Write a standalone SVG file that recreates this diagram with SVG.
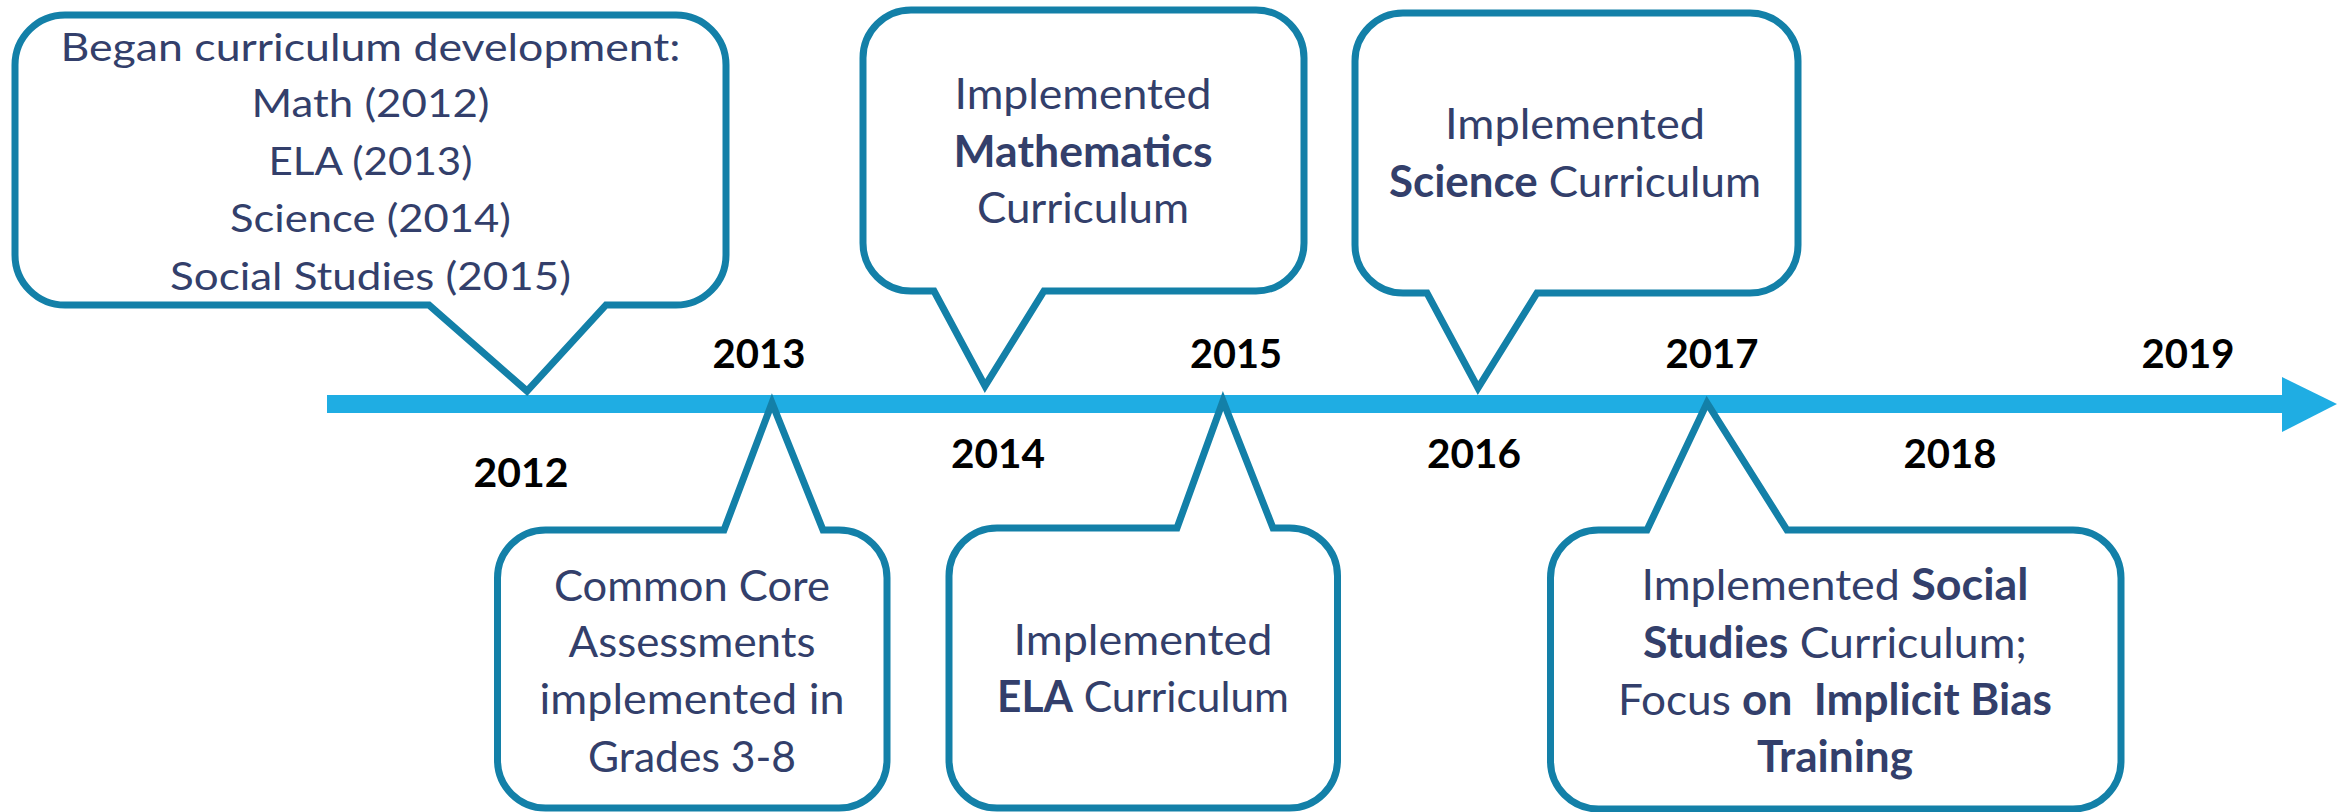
<svg xmlns="http://www.w3.org/2000/svg" width="2346" height="812" viewBox="0 0 2346 812">
<style>
.box{fill:#fff;stroke:#1380a8;stroke-width:7;stroke-linejoin:miter;stroke-miterlimit:10}
.t{font-family:Lato,"Open Sans","Liberation Sans",sans-serif;font-size:43px;fill:#333f6b;text-anchor:middle}
.t1{font-size:38.7px}
.b{font-weight:bold}
.yr{font-family:Lato,"Open Sans","Liberation Sans",sans-serif;font-size:40px;font-weight:bold;fill:#000;text-anchor:middle}
.axis{fill:#1fade3}
</style>
<rect width="2346" height="812" fill="#fff"/>
<g id="connectors">
<g id="axis">
<rect class="axis" x="327" y="395" width="1957" height="18"/>
<polygon class="axis" points="2282,377 2337,404 2282,432"/>
</g>
</g>
<g id="years">
<text class="yr" x="521" y="487" textLength="95" lengthAdjust="spacingAndGlyphs">2012</text>
<text class="yr" x="759" y="368" textLength="93" lengthAdjust="spacingAndGlyphs">2013</text>
<text class="yr" x="998" y="468" textLength="94" lengthAdjust="spacingAndGlyphs">2014</text>
<text class="yr" x="1236" y="368" textLength="92" lengthAdjust="spacingAndGlyphs">2015</text>
<text class="yr" x="1474" y="468" textLength="94" lengthAdjust="spacingAndGlyphs">2016</text>
<text class="yr" x="1712" y="368" textLength="93" lengthAdjust="spacingAndGlyphs">2017</text>
<text class="yr" x="1950" y="468" textLength="93" lengthAdjust="spacingAndGlyphs">2018</text>
<text class="yr" x="2188" y="368" textLength="93" lengthAdjust="spacingAndGlyphs">2019</text>
</g>
<g id="node-development">
<path class="box" d="M65,15 H676 A50,50 0 0 1 726,65 V255 A50,50 0 0 1 676,305 H606 L527,391 L429,305 H65 A50,50 0 0 1 15,255 V65 A50,50 0 0 1 65,15 Z"/>
<text class="t t1" x="370.5" y="61" textLength="620" lengthAdjust="spacingAndGlyphs">Began curriculum development:</text>
<text class="t t1" x="370.5" y="117" textLength="238" lengthAdjust="spacingAndGlyphs">Math (2012)</text>
<text class="t t1" x="370.5" y="175" textLength="204" lengthAdjust="spacingAndGlyphs">ELA (2013)</text>
<text class="t t1" x="370.5" y="232" textLength="281" lengthAdjust="spacingAndGlyphs">Science (2014)</text>
<text class="t t1" x="370.5" y="290" textLength="401" lengthAdjust="spacingAndGlyphs">Social Studies (2015)</text>
</g>
<g id="node-common-core">
<path class="box" d="M545.5,530 H724 L772,403 L823,530 H839 A48,48 0 0 1 887,578 V760 A48,48 0 0 1 839,808 H545.5 A48,48 0 0 1 497.5,760 V578 A48,48 0 0 1 545.5,530 Z"/>
<text class="t" x="692" y="601" textLength="276" lengthAdjust="spacingAndGlyphs">Common Core</text>
<text class="t" x="692" y="657" textLength="247" lengthAdjust="spacingAndGlyphs">Assessments</text>
<text class="t" x="692" y="714" textLength="305" lengthAdjust="spacingAndGlyphs">implemented in</text>
<text class="t" x="692" y="772" textLength="208" lengthAdjust="spacingAndGlyphs">Grades 3-8</text>
</g>
<g id="node-mathematics">
<path class="box" d="M911,10 H1256 A48,48 0 0 1 1304,58 V243 A48,48 0 0 1 1256,291 H1044 L985,386 L934,291 H911 A48,48 0 0 1 863,243 V58 A48,48 0 0 1 911,10 Z"/>
<text class="t" x="1083" y="109" textLength="257" lengthAdjust="spacingAndGlyphs">Implemented</text>
<text class="t b" x="1083" y="167" textLength="259" lengthAdjust="spacingAndGlyphs">Mathematics</text>
<text class="t" x="1083" y="223" textLength="212" lengthAdjust="spacingAndGlyphs">Curriculum</text>
</g>
<g id="node-ela">
<path class="box" d="M997,528 H1177 L1223,401 L1273,528 H1289.5 A48,48 0 0 1 1337.5,576 V760 A48,48 0 0 1 1289.5,808 H997 A48,48 0 0 1 949,760 V576 A48,48 0 0 1 997,528 Z"/>
<text class="t" x="1143" y="655" textLength="259" lengthAdjust="spacingAndGlyphs">Implemented</text>
<text class="t" x="1143" y="712" textLength="292" lengthAdjust="spacingAndGlyphs"><tspan class="b">ELA</tspan> Curriculum</text>
</g>
<g id="node-science">
<path class="box" d="M1403,13 H1750 A48,48 0 0 1 1798,61 V245 A48,48 0 0 1 1750,293 H1537 L1478,388 L1427,293 H1403 A48,48 0 0 1 1355,245 V61 A48,48 0 0 1 1403,13 Z"/>
<text class="t" x="1575" y="139" textLength="260" lengthAdjust="spacingAndGlyphs">Implemented</text>
<text class="t" x="1575" y="197" textLength="372" lengthAdjust="spacingAndGlyphs"><tspan class="b">Science</tspan> Curriculum</text>
</g>
<g id="node-social-studies">
<path class="box" d="M1598.5,530 H1647 L1707,403 L1787,530 H2073 A48,48 0 0 1 2121,578 V761 A48,48 0 0 1 2073,809 H1598.5 A48,48 0 0 1 1550.5,761 V578 A48,48 0 0 1 1598.5,530 Z"/>
<text class="t" x="1835" y="600" textLength="387" lengthAdjust="spacingAndGlyphs">Implemented <tspan class="b">Social</tspan></text>
<text class="t" x="1835" y="658" textLength="384" lengthAdjust="spacingAndGlyphs"><tspan class="b">Studies</tspan> Curriculum;</text>
<text class="t" x="1835" y="715" textLength="434" lengthAdjust="spacingAndGlyphs" xml:space="preserve">Focus <tspan class="b">on  Implicit Bias</tspan></text>
<text class="t b" x="1835" y="772" textLength="156" lengthAdjust="spacingAndGlyphs">Training</text>
</g>
</svg>
